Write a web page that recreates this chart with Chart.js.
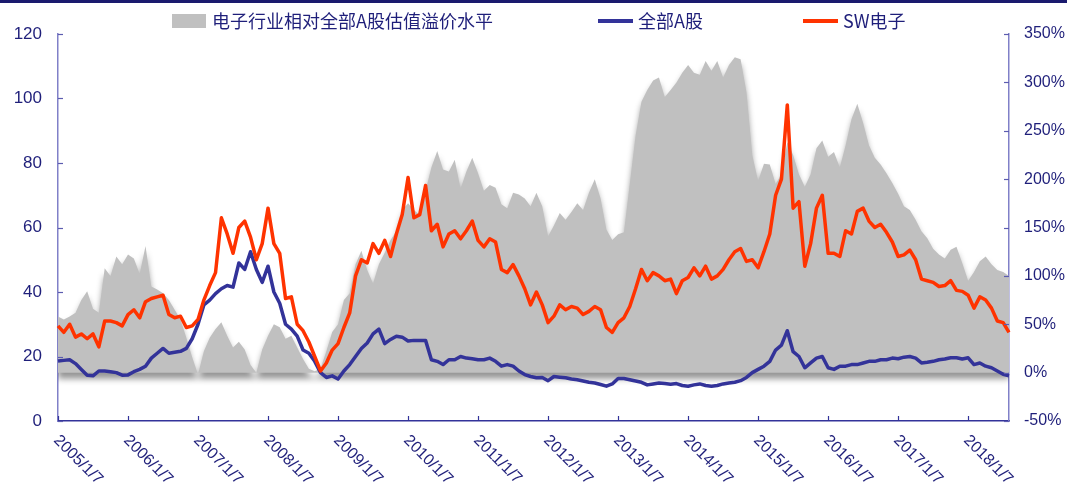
<!DOCTYPE html>
<html><head><meta charset="utf-8">
<script src="https://cdn.jsdelivr.net/npm/chart.js@4.4.0/dist/chart.umd.min.js"></script>
<style>html,body{margin:0;padding:0;background:#fff;}canvas{display:block;}</style>
</head><body>
<canvas id="c" width="1067" height="489"></canvas>
<script>
// Monthly categories from 2005/1 to 2018/8
const months = [];
for (let y = 2005; y <= 2018; y++) for (let m = 1; m <= 12; m++) { if (y === 2018 && m > 8) break; months.push(y + '/' + m); }
const yearTickLabels = ['2005/1/7','2006/1/7','2007/1/7','2008/1/7','2009/1/7','2010/1/7','2011/1/7','2012/1/7','2013/1/7','2014/1/7','2015/1/7','2016/1/7','2017/1/7','2018/1/7'];
const legendLabels = ['电子行业相对全部A股估值溢价水平', '全部A股', 'SW电子'];

// 电子行业相对全部A股估值溢价水平 (%), right axis
const premium = [
 58,55,58,62,75,84,66,62,108,100,120,112,
 122,118,102,131,89,86,82,75,65,55,36,16,
 -2,22,36,45,52,38,26,32,24,8,0,24,
 38,50,47,35,38,26,14,4,1.5,4,22,42,
 50,75,82,112,126,106,92,112,124,137,146,168,
 175,168,163,188,212,229,210,208,220,190,208,222,
 206,188,194,191,174,170,186,184,180,172,186,172,
 141,152,165,158,166,175,168,186,200,180,148,137,
 143,145,195,245,280,292,302,305,285,292,300,310,
 318,310,308,322,312,322,305,318,326,324,290,225,
 198,216,215,195,205,238,225,205,192,205,232,240,
 223,228,212,235,262,278,258,235,222,215,206,196,
 185,172,168,158,146,139,128,122,118,127,130,113,
 95,104,115,120,112,106,104,100
];
// 全部A股 PE, left axis
const allA = [
 18.6,18.8,19,17.8,16,14.2,14,15.5,15.5,15.3,15,14.2,
 14.3,15.3,16,17,19.5,21,22.5,21,21.3,21.6,22.5,25.5,
 30,36,37.5,39.5,41,42,41.5,49,47,52.5,47,43,
 48,40,36.5,30,28.5,26.3,22,21,18.5,15,13.5,14,
 13,15.5,17.5,20,22.5,24.2,27,28.5,24,25.3,26.3,26,
 24.8,25,25,25,19,18.5,17.5,19,19,20,19.5,19.3,
 19,19,19.5,18.5,17,17.5,17,15.5,14.4,13.8,13.4,13.5,
 12.5,13.8,13.6,13.4,13,12.8,12.4,12,11.8,11.3,10.8,11.5,
 13.2,13.2,12.8,12.4,12,11.2,11.5,11.8,11.6,11.4,11.6,11,
 10.8,11.2,11.5,11,10.8,11,11.5,11.8,12,12.5,13.5,15,
 16,17,18.5,22,23.5,28,21.5,20,16.5,18,19.5,20,
 16.5,16,17,17,17.5,17.5,18,18.5,18.5,19,19,19.5,
 19.3,19.8,20,19.5,18,18.2,18.5,19,19.2,19.6,19.6,19.2,
 19.6,17.5,18,17,16.5,15.5,14.5,14
];
// SW电子 PE, left axis
const swElec = [
 29.5,27.5,30,26,27,25.5,27,23,31,31,30.5,29.5,
 33,34.5,32,37,38,38.5,39,33,32,32.5,29,29.5,
 31.5,37.5,42,46,63,58,52,60,62,57,50,55,
 66,55,52,38,38.5,30,28,24.5,20,15.5,18,22,
 24,29,33.5,45,50,49,55,52,56,51,58,64,
 75.5,63,64,73,59,61,54,58,59,56.5,59,62,
 56,54,56.5,55.5,47,46,48.5,45,41,36,40,36,
 30.5,32.5,36,34.5,35.5,35,33,34,35.5,34.5,29,27.5,
 30.5,32,35.5,41,47,43.5,46,45,43.5,44,39.5,43.5,
 44.5,47.5,45,48,44,45,47,50,52.5,53.5,49.5,50,
 47.5,52.5,58,70,75,98,66,68,48,55,66,70,
 52,52,51,59,58,65,66,62,60,61,58.5,55.5,
 51,51.5,53,50,44,43.5,43,41.7,42,43.5,40.5,40.2,
 39,35,38.5,37.5,35,31,30.5,27.5
];

const TEXT = '#1f1f7a';
const GRAY = '#c0c0c0', BLUE = '#333399', RED = '#ff3300';
Chart.defaults.font.family = '"Liberation Sans", Arial, sans-serif';
Chart.defaults.color = TEXT;

const deco = {
  id: 'deco',
  beforeDatasetsDraw(chart) {
    const ctx = chart.ctx;
    ctx.save();
    ctx.shadowColor = 'rgba(0,0,0,0.42)';
    ctx.shadowBlur = 6;
    ctx.shadowOffsetY = 6;
  },
  afterDatasetDraw(chart, args) {
    if (args.index === 0) chart.ctx.restore();
  },
  afterDraw(chart) {
    const ctx = chart.ctx;
    const xs = chart.scales.x, yl = chart.scales.y, yr = chart.scales.y1;
    const a = chart.chartArea;
    ctx.save();
    ctx.fillStyle = '#1a1a6e';
    ctx.fillRect(0, 0, chart.width, 3);
    ctx.lineWidth = 1.2;
    ctx.strokeStyle = '#5c5cb0';
    yl.ticks.forEach(t => {
      const y = Math.round(yl.getPixelForValue(t.value)) + 0.5;
      ctx.beginPath(); ctx.moveTo(a.left, y); ctx.lineTo(a.left + 5, y); ctx.stroke();
    });
    yr.ticks.forEach(t => {
      const y = Math.round(yr.getPixelForValue(t.value)) + 0.5;
      ctx.beginPath(); ctx.moveTo(a.right, y); ctx.lineTo(a.right - 5, y); ctx.stroke();
    });
    ctx.strokeStyle = '#33339a';
    yearTickLabels.forEach((lab, k) => {
      const x = Math.round(xs.getPixelForValue(k * 12)) + 0.5;
      ctx.beginPath(); ctx.moveTo(x, a.bottom); ctx.lineTo(x, a.bottom - 5); ctx.stroke();
    });
    ctx.fillStyle = TEXT;
    ctx.font = '16px "Liberation Sans", Arial, sans-serif';
    ctx.textAlign = 'left';
    ctx.textBaseline = 'middle';
    yearTickLabels.forEach((lab, k) => {
      const x = xs.getPixelForValue(k * 12);
      ctx.save();
      ctx.translate(x - 2, a.bottom + 17);
      ctx.rotate(Math.PI / 4);
      ctx.fillText(lab, 0, 0);
      ctx.restore();
    });
    const ly = 21;
    ctx.font = '18px "Noto Sans CJK SC", sans-serif';
    ctx.fillStyle = GRAY;
    ctx.fillRect(172, 14, 34, 14);
    ctx.fillStyle = TEXT;
    ctx.fillText(legendLabels[0], 212, ly);
    ctx.lineWidth = 4;
    ctx.strokeStyle = BLUE;
    ctx.beginPath(); ctx.moveTo(598, ly); ctx.lineTo(633, ly); ctx.stroke();
    ctx.fillText(legendLabels[1], 638, ly);
    ctx.strokeStyle = RED;
    ctx.beginPath(); ctx.moveTo(803, ly); ctx.lineTo(838, ly); ctx.stroke();
    ctx.fillText(legendLabels[2], 843, ly);
    ctx.restore();
  }
};

new Chart(document.getElementById('c'), {
  type: 'line',
  data: {
    labels: months,
    datasets: [
      { label: legendLabels[0], data: premium, yAxisID: 'y1', backgroundColor: GRAY, borderWidth: 0,
        pointRadius: 0, fill: { value: 0 }, order: 3, tension: 0 },
      { label: legendLabels[1], data: allA, yAxisID: 'y', borderColor: BLUE, borderWidth: 3.5,
        pointRadius: 0, fill: false, order: 2, tension: 0, borderJoinStyle: 'round' },
      { label: legendLabels[2], data: swElec, yAxisID: 'y', borderColor: RED, borderWidth: 3.5,
        pointRadius: 0, fill: false, order: 1, tension: 0, borderJoinStyle: 'round' }
    ]
  },
  options: {
    responsive: false,
    animation: false,
    devicePixelRatio: 1,
    layout: { padding: { top: 34, left: 0, right: 0, bottom: 0 } },
    plugins: { legend: { display: false }, tooltip: { enabled: false } },
    scales: {
      x: {
        type: 'category', offset: false,
        grid: { display: false, drawTicks: false },
        border: { display: true, color: '#33339a', width: 1.5 },
        ticks: { display: false },
        afterFit: s => { s.height = 68; }
      },
      y: {
        position: 'left', min: 0, max: 120,
        grid: { display: false, drawTicks: false },
        border: { display: true, color: '#8080c8', width: 1.5 },
        ticks: { stepSize: 20, padding: 16, color: TEXT, font: { size: 17 } },
        afterFit: s => { s.width = 58; }
      },
      y1: {
        position: 'right', min: -50, max: 350,
        grid: { display: false, drawTicks: false },
        border: { display: true, color: '#8080c8', width: 1.5 },
        ticks: { stepSize: 50, padding: 15, color: TEXT, font: { size: 16 }, callback: v => v + '%' },
        afterFit: s => { s.width = 58; }
      }
    }
  },
  plugins: [deco]
});
</script>
</body></html>
